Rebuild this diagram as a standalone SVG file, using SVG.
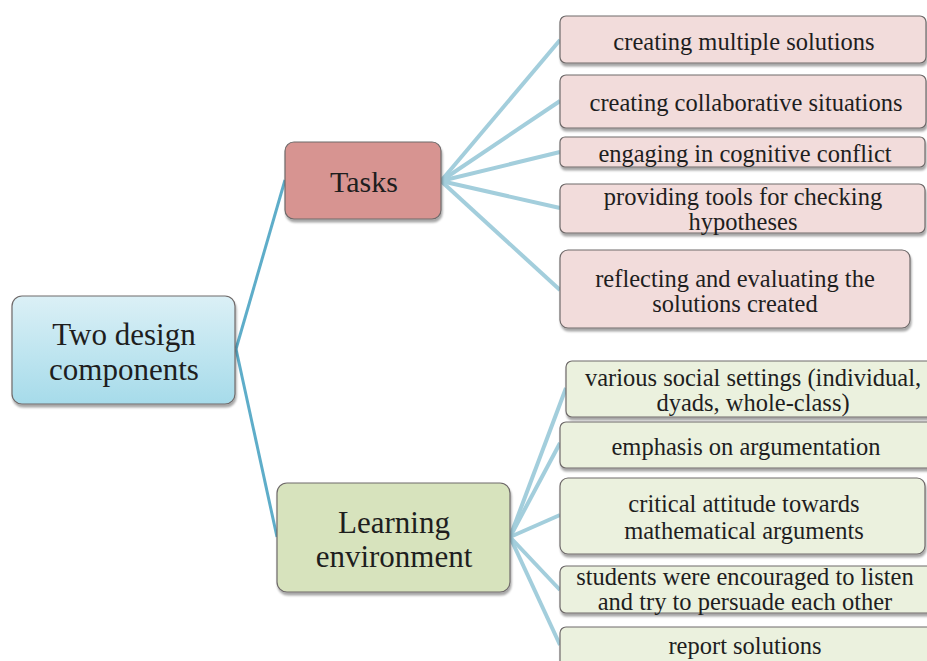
<svg xmlns="http://www.w3.org/2000/svg" width="927" height="661" viewBox="0 0 927 661">
  <defs>
    <linearGradient id="rootFill" x1="0" y1="0" x2="0" y2="1">
      <stop offset="0" stop-color="#dbf0f6"/>
      <stop offset="1" stop-color="#a6dbea"/>
    </linearGradient>
    <filter id="shadow" x="-5%" y="-10%" width="110%" height="130%">
      <feDropShadow dx="1" dy="3" stdDeviation="1.2" flood-color="#000" flood-opacity="0.35"/>
    </filter>
  </defs>
  <style>
    .box { stroke: #6f6a6a; stroke-width: 1.2; filter: url(#shadow); }
    .task { fill: #f2dcdb; }
    .env { fill: #ebf1de; }
    .trunk { stroke: #5eadc9; stroke-width: 3; fill: none; }
    .branch { stroke: #a3cedc; stroke-width: 4; fill: none; }
  </style>

  <g id="connectors">
    <path class="trunk" d="M236 349 L285 180"/>
    <path class="trunk" d="M236 349 L277 537"/>
    <path class="branch" d="M441 181 L560 40"/>
    <path class="branch" d="M441 181 L560 101"/>
    <path class="branch" d="M441 181 L560 152"/>
    <path class="branch" d="M441 181 L560 208"/>
    <path class="branch" d="M441 181 L560 290"/>
    <path class="branch" d="M510 537 L566 388"/>
    <path class="branch" d="M510 537 L560 443"/>
    <path class="branch" d="M510 537 L560 515"/>
    <path class="branch" d="M510 537 L560 590"/>
    <path class="branch" d="M510 537 L560 645"/>
  </g>

  <g fill="#1e1e1e" text-anchor="middle">
    <g id="root">
      <rect class="box" x="12" y="296" width="223" height="108" rx="10" fill="url(#rootFill)"/>
      <text style="font-family:'Liberation Serif';font-size:31px" x="124" y="345">Two design</text>
      <text style="font-family:'Liberation Serif';font-size:31px" x="124" y="380">components</text>
    </g>

    <g id="tasks">
      <rect class="box" x="285" y="142" width="156" height="77" rx="9" fill="#d79491"/>
      <text style="font-family:'Liberation Serif';font-size:30px" x="364" y="192">Tasks</text>
    </g>

    <g id="learning-environment">
      <rect class="box" x="277" y="483" width="233" height="109" rx="10" fill="#d7e3bd"/>
      <text style="font-family:'Liberation Serif';font-size:31px" x="394" y="533">Learning</text>
      <text style="font-family:'Liberation Serif';font-size:31px" x="394" y="567">environment</text>
    </g>

    <g id="task-1">
      <rect class="box task" x="560" y="16" width="366" height="47" rx="6"/>
      <text style="font-family:'Liberation Serif';font-size:24.5px" x="744" y="50">creating multiple solutions</text>
    </g>
    <g id="task-2">
      <rect class="box task" x="560" y="75" width="366" height="53" rx="6"/>
      <text style="font-family:'Liberation Serif';font-size:24.5px" x="746" y="111">creating collaborative situations</text>
    </g>
    <g id="task-3">
      <rect class="box task" x="560" y="137" width="365" height="30" rx="5"/>
      <text style="font-family:'Liberation Serif';font-size:24.5px" x="745" y="162">engaging in cognitive conflict</text>
    </g>
    <g id="task-4">
      <rect class="box task" x="560" y="184" width="365" height="49" rx="6"/>
      <text style="font-family:'Liberation Serif';font-size:24.5px" x="743" y="205">providing tools for checking</text>
      <text style="font-family:'Liberation Serif';font-size:24.5px" x="743" y="230">hypotheses</text>
    </g>
    <g id="task-5">
      <rect class="box task" x="560" y="250" width="350" height="78" rx="8"/>
      <text style="font-family:'Liberation Serif';font-size:24.5px" x="735" y="287">reflecting and evaluating the</text>
      <text style="font-family:'Liberation Serif';font-size:24.5px" x="735" y="312">solutions created</text>
    </g>

    <g id="env-1">
      <rect class="box env" x="566" y="361" width="370" height="56" rx="6"/>
      <text style="font-family:'Liberation Serif';font-size:24.5px" x="753" y="386">various social settings (individual,</text>
      <text style="font-family:'Liberation Serif';font-size:24.5px" x="753" y="411">dyads, whole-class)</text>
    </g>
    <g id="env-2">
      <rect class="box env" x="560" y="422" width="376" height="46" rx="6"/>
      <text style="font-family:'Liberation Serif';font-size:24.5px" x="746" y="455">emphasis on argumentation</text>
    </g>
    <g id="env-3">
      <rect class="box env" x="560" y="478" width="365" height="76" rx="8"/>
      <text style="font-family:'Liberation Serif';font-size:24.5px" x="744" y="512">critical attitude towards</text>
      <text style="font-family:'Liberation Serif';font-size:24.5px" x="744" y="539">mathematical arguments</text>
    </g>
    <g id="env-4">
      <rect class="box env" x="560" y="566" width="376" height="47" rx="6"/>
      <text style="font-family:'Liberation Serif';font-size:24.5px" x="745" y="585">students were encouraged to listen</text>
      <text style="font-family:'Liberation Serif';font-size:24.5px" x="745" y="610">and try to persuade each other</text>
    </g>
    <g id="env-5">
      <rect class="box env" x="560" y="627" width="376" height="50" rx="6"/>
      <text style="font-family:'Liberation Serif';font-size:24.5px" x="745" y="654">report solutions</text>
    </g>
  </g>
</svg>
